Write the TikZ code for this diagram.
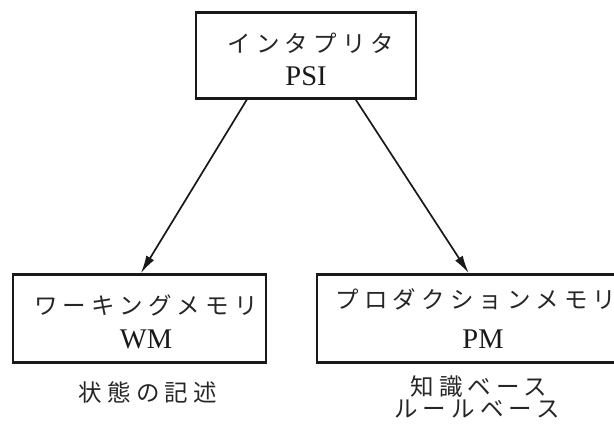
\documentclass[tikz,border=0pt]{standalone}
\usepackage{fontspec}
\setmainfont{Liberation Serif}
\newfontfamily\jp[LetterSpace=22]{Noto Sans CJK JP}
\usetikzlibrary{arrows.meta}
\begin{document}
\begin{tikzpicture}[x=1pt,y=-1pt,
  box/.style={draw=black!90,line width=2.4pt,rectangle,inner sep=0pt},
  jtext/.style={font=\jp\fontsize{23.5}{26}\selectfont,text=black!85,inner sep=0pt,anchor=center},
  ltext/.style={font=\fontsize{28.5}{32}\selectfont,text=black!90,inner sep=0pt,anchor=center},
  arr/.style={draw=black!90,line width=1.7pt,-{Latex[length=18pt,width=9pt]}}]
\useasboundingbox (0,0) rectangle (614,434);
\node[box,minimum width=220pt,minimum height=86pt] (top) at (306,55.5) {};
\node[box,minimum width=253pt,minimum height=88pt] (wm) at (139.5,318.5) {};
\node[box,minimum width=334pt,minimum height=88pt] (pm) at (484,318.5) {};
\node[jtext] (t1) at (311,43) {インタプリタ};
\node[ltext] (t2) at (306,76) {PSI};
\node[jtext] (w1) at (146,305) {ワーキングメモリ};
\node[ltext] (w2) at (146,339) {WM};
\node[jtext] (p1) at (476,299) {プロダクションメモリ};
\node[ltext] (p2) at (483,339) {PM};
\node[jtext] (c1) at (148,392) {状態の記述};
\node[jtext] (c2) at (479,387) {知識ベース};
\node[jtext] (c3) at (477,409) {ルールベース};
\draw[arr] ([xshift=52pt]top.south west) -- ([xshift=129pt]wm.north west);
\draw[arr] ([xshift=161pt]top.south west) -- ([xshift=153pt]pm.north west);
\end{tikzpicture}
\end{document}
